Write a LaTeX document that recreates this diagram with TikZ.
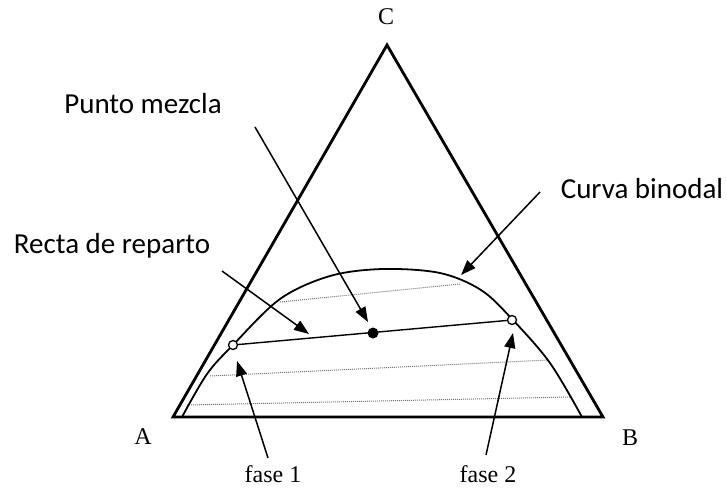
\documentclass[tikz,border=0pt]{standalone}
\usepackage{fontspec}
\setmainfont{Liberation Serif}
\newfontfamily\calib{Carlito}
\usetikzlibrary{arrows.meta}
\tikzset{
  tri/.style={line width=2.8pt, line join=miter},
  binodal/.style={line width=1.8pt},
  tie/.style={line width=1.4pt},
  dotline/.style={line width=1pt, densely dotted, black!55},
  pointer/.style={line width=1.5pt, -{Triangle[length=15pt,width=11pt]}},
  callout/.style={font=\calib\fontsize{29}{33}\selectfont, inner sep=0pt},
  corner/.style={font=\fontsize{24}{28}\selectfont, inner sep=0pt},
  openpt/.style={circle, draw, fill=white, line width=1.3pt, minimum size=9pt, inner sep=0pt},
  fullpt/.style={circle, fill=black, minimum size=11pt, inner sep=0pt}
}
\begin{document}
\begin{tikzpicture}[x=1pt,y=-1pt]
\useasboundingbox (0,0) rectangle (727,491);
% triangle
\coordinate (A) at (173,417);
\coordinate (B) at (603,417);
\coordinate (C) at (387,45);
\draw[tri] (A) -- (B) -- (C) -- cycle;
% tie lines (dotted)
\draw[dotline] (280,302) -- (460,284);
\draw[dotline] (210,376) -- (548,360);
\draw[dotline] (187,405) -- (570,397);
% binodal curve
\draw[binodal] plot[smooth, tension=0.55] coordinates {(182,417) (207,374) (233,345) (280,299) (330,276) (383,269) (440,273) (481,290) (512,319) (550,363) (582,417)};
% main tie line
\coordinate (P1) at (233,345);
\coordinate (P2) at (512,320);
\draw[tie] (P1) -- (P2);
\node[openpt] (f1) at (P1) {};
\node[openpt] (f2) at (P2) {};
\node[fullpt] (M) at (373,333) {};
% labels
\node[corner] (lC) at (386,17) {C};
\node[corner] (lA) at (143,437) {A};
\node[corner] (lB) at (630,438) {B};
\node[corner] (lf1) at (273,474) {fase 1};
\node[corner] (lf2) at (488,474) {fase 2};
\node[callout] (lpm) at (143,104) {Punto mezcla};
\node[callout] (lrr) at (112,246) {Recta de reparto};
\node[callout] (lcb) at (642,189) {Curva binodal};
% arrows
\coordinate (tpm) at (255,127);
\coordinate (hpm) at (368,322);
\coordinate (trr) at (222,271);
\coordinate (hrr) at (309,334);
\coordinate (tcb) at (540,192);
\coordinate (hcb) at (461,275);
\coordinate (tf1) at (268,458);
\coordinate (hf1) at (237,361);
\coordinate (tf2) at (486,455);
\coordinate (hf2) at (513,333);
\draw[pointer] (tpm) -- (hpm);
\draw[pointer] (trr) -- (hrr);
\draw[pointer] (tcb) -- (hcb);
\draw[pointer] (tf1) -- (hf1);
\draw[pointer] (tf2) -- (hf2);
\end{tikzpicture}
\end{document}
